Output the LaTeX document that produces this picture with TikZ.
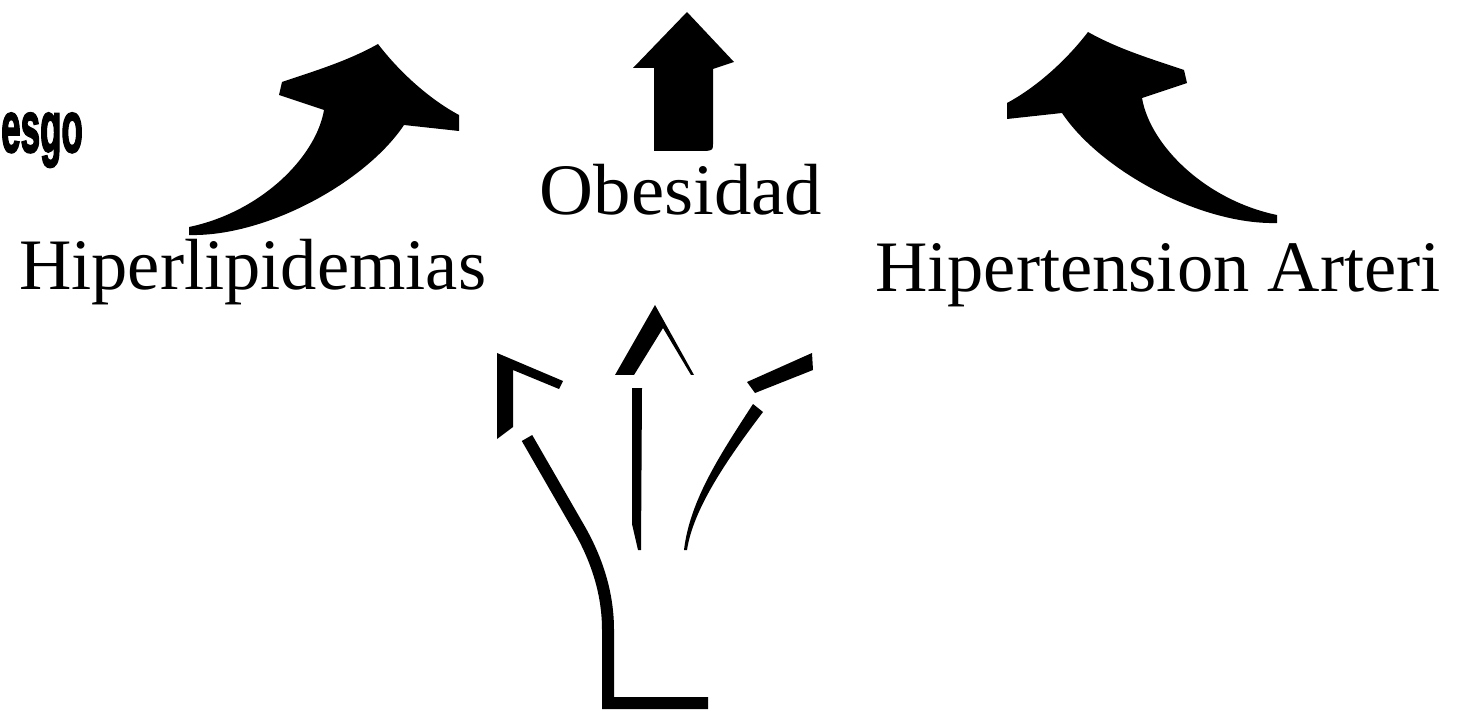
\documentclass[tikz,border=0pt]{standalone}
\usepackage{fontspec}
\setmainfont{Liberation Serif}
\newfontfamily\heavyfont[BoldFont={* Bold},BoldFeatures={FakeBold=3}]{Liberation Sans}
\newcommand{\curvedarrowshape}{%
  \fill[blackfill] (1088,32) .. controls (1120,50) and (1155,60) .. (1184,70)
    -- (1187,83) -- (1142,98)
    .. controls (1150,145) and (1205,200) .. (1277,215)
    -- (1277,223)
    .. controls (1200,225) and (1100,170) .. (1062,113)
    -- (1007,119) -- (1007,103)
    .. controls (1035,88) and (1065,62) .. cycle;}
\begin{document}
\begin{tikzpicture}[x=1pt,y=-1pt,
  blackfill/.style={fill=black,draw=none},
  bigtext/.style={inner sep=0pt,text=black,font=\fontsize{72.5}{80}\selectfont},
  forkline/.style={draw=black,line width=12pt,line cap=butt,line join=miter}]
\useasboundingbox (0,0) rectangle (1465,711);
\clip (0,0) rectangle (1465,711);
\fill[white] (0,0) rectangle (1465,711);

% text
\node[inner sep=0pt,anchor=base west] (riesgo) at (1,152)
  {\scalebox{0.53}[1.1]{\heavyfont\bfseries\fontsize{66}{66}\selectfont esgo}};
\node[bigtext,anchor=base west] (hiper) at (19,290) {Hiperlipidemias};
\node[bigtext,anchor=base] (obes) at (681,215) {\scalebox{1.03}[1]{Obesidad}};
\node[bigtext,anchor=base east] (hta) at (1441,292) {Hipertension Arteri};

% curved arrows
\curvedarrowshape
\begin{scope}[shift={(1466,12)},xscale=-1]
  \curvedarrowshape
\end{scope}

% straight arrow above Obesidad
\fill[blackfill] (654,151) -- (654,68) -- (633,68) -- (687,12) -- (734,62)
  -- (713,69) -- (713,143) .. controls (713,150) .. (706,151) -- cycle;

% fork
\fill[blackfill] (497,353) -- (563,381) -- (559,389) -- (513,370) -- (513,427) -- (497,439) -- cycle;
\draw[forkline] (527,438) -- (580,530) .. controls (598,562) and (608,595) .. (608,630)
  -- (608,703) -- (708,703);
\fill[blackfill] (632,388) -- (642,388) -- (641,550) -- (638,550) -- (632,524) -- cycle;
\fill[blackfill] (615,375) -- (655,305) -- (694,375) -- (691,375) -- (663,328) -- (634,375) -- cycle;
\fill[blackfill] (747,382) -- (812,353) -- (813,370) -- (755,393) -- cycle;
\fill[blackfill] (753,404) .. controls (720,455) and (690,500) .. (684,550)
  -- (687,550) .. controls (693,510) and (725,462) .. (763,412) -- cycle;
\end{tikzpicture}
\end{document}
